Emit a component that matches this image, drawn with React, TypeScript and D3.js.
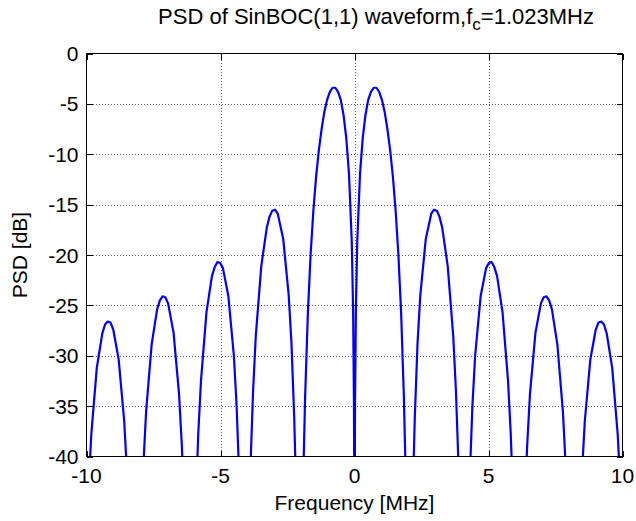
import React from 'react';
import * as d3 from 'd3';

// Frequency in MHz
const freqMHz = [
  -10.025, -9.923, -9.821, -9.616, -9.412, -9.309, -9.207, -9.105, -9.002, -8.798, -8.593, -8.491, -8.44,
  -8.184,
  -7.979, -7.877, -7.775, -7.57, -7.366, -7.263, -7.161, -7.059, -6.956, -6.752, -6.547, -6.445, -6.394, -6.343,
  -6.138,
  -5.933, -5.831, -5.729, -5.524, -5.32, -5.217, -5.115, -5.013, -4.91, -4.706, -4.501, -4.399, -4.297, -4.245, -4.194,
  -4.092,
  -3.939, -3.887, -3.785, -3.683, -3.478, -3.274, -3.171, -3.069, -2.967, -2.864, -2.66, -2.455, -2.353, -2.251, -2.199, -2.148,
  -2.046,
  -1.9437, -1.8926, -1.8414, -1.7391, -1.6368, -1.5345, -1.4322, -1.3299, -1.2276, -1.1253, -1.023, -0.9207, -0.8184,
  -0.7161, -0.6138, -0.5115, -0.4092, -0.3069, -0.2046, -0.1023, -0.0512, -0.0205, -0.0102,
  0,
  0.0102, 0.0205, 0.0512, 0.1023, 0.2046, 0.3069, 0.4092, 0.5115, 0.6138, 0.7161, 0.8184, 0.9207, 1.023, 1.1253,
  1.2276, 1.3299, 1.4322, 1.5345, 1.6368, 1.7391, 1.8414, 1.8926, 1.9437,
  2.046,
  2.148, 2.199, 2.251, 2.353, 2.455, 2.66, 2.864, 2.967, 3.069, 3.171, 3.274, 3.478, 3.683, 3.785, 3.887, 3.939,
  4.092,
  4.194, 4.245, 4.297, 4.399, 4.501, 4.706, 4.91, 5.013, 5.115, 5.217, 5.32, 5.524, 5.729, 5.831, 5.933,
  6.138,
  6.343, 6.394, 6.445, 6.547, 6.752, 6.956, 7.059, 7.161, 7.263, 7.366, 7.57, 7.775, 7.877, 7.979,
  8.184,
  8.44, 8.491, 8.593, 8.798, 9.002, 9.105, 9.207, 9.309, 9.412, 9.616, 9.821, 9.923, 10.025,
];

// PSD in dB at each frequency above (values below -40 are outside the axes)
const psdDb = [
  -50.9, -43.1, -37.8, -31.2, -27.8, -26.9, -26.6, -26.7, -27.4, -30.4, -36.5, -41.5, -44.9,
  -80,
  -48.6, -40.8, -35.5, -28.9, -25.4, -24.5, -24.1, -24.2, -24.8, -27.7, -33.8, -38.8, -42.1, -46.3,
  -80,
  -45.6, -37.8, -32.5, -25.7, -22.1, -21.2, -20.7, -20.8, -21.3, -24.1, -30.0, -35.0, -42.4, -47.9, -55.8,
  -80,
  -47.2, -41.4, -33.5, -28.0, -21.1, -17.3, -16.2, -15.6, -15.5, -15.9, -18.4, -24.0, -28.7, -36.0, -41.3, -49.1,
  -80,
  -48.1, -39.8, -34.0, -25.7, -19.9, -15.6, -12.2, -9.6, -7.5, -5.8, -4.6, -3.8, -3.4,
  -3.4, -3.8, -4.6, -6.1, -8.4, -12.0, -18.7, -25.6, -34.7, -41.6,
  -80,
  -41.6, -34.7, -25.6, -18.7, -12.0, -8.4, -6.1, -4.6, -3.8, -3.4, -3.4, -3.8, -4.6, -5.8,
  -7.5, -9.6, -12.2, -15.6, -19.9, -25.7, -34.0, -39.8, -48.1,
  -80,
  -49.1, -41.3, -36.0, -28.7, -24.0, -18.4, -15.9, -15.5, -15.6, -16.2, -17.3, -21.1, -28.0, -33.5, -41.4, -47.2,
  -80,
  -55.8, -47.9, -42.4, -35.0, -30.0, -24.1, -21.3, -20.8, -20.7, -21.2, -22.1, -25.7, -32.5, -37.8, -45.6,
  -80,
  -46.3, -42.1, -38.8, -33.8, -27.7, -24.8, -24.2, -24.1, -24.5, -25.4, -28.9, -35.5, -40.8, -48.6,
  -80,
  -44.9, -41.5, -36.5, -30.4, -27.4, -26.7, -26.6, -26.9, -27.8, -31.2, -37.8, -43.1, -50.9,
];

const xTickValues = [-10, -5, 0, 5, 10];
const yTickValues = [0, -5, -10, -15, -20, -25, -30, -35, -40];
const xDomain = [-10, 10];
const yDomain = [-40, 0];

const titleMain = 'PSD of SinBOC(1,1) waveform,f';
const titleSub = 'c';
const titleTail = '=1.023MHz';
const xLabelText = 'Frequency [MHz]';
const yLabelText = 'PSD [dB]';

const W = 636;
const H = 521;
const L = 86.5;
const R = 622.5;
const T = 53.5;
const B = 456.5;
const FONT = '"Liberation Sans", Arial, Helvetica, sans-serif';

export default function App() {
  const x = d3.scaleLinear().domain(xDomain).range([L, R]);
  const y = d3.scaleLinear().domain(yDomain).range([B, T]);
  const pts: [number, number][] = freqMHz.map((f, i) => [f, psdDb[i]]);
  const line = d3
    .line<[number, number]>()
    .x((d) => x(d[0]))
    .y((d) => y(d[1]));
  const tickLen = 6;

  return (
    <svg
      width={W}
      height={H}
      style={{ position: 'absolute', left: 0, top: 0, background: '#fff' }}
      fontFamily={FONT}
    >
      <rect x={0} y={0} width={W} height={H} fill="#fff" />
      <defs>
        <clipPath id="plotclip">
          <rect x={L} y={T} width={R - L} height={B - T} />
        </clipPath>
      </defs>
      {/* grid */}
      <g stroke="#5a5a5a" strokeWidth={1} strokeDasharray="1,2" shapeRendering="crispEdges">
        {xTickValues.slice(1, -1).map((v) => (
          <line key={'gx' + v} x1={Math.round(x(v)) + 0.5} x2={Math.round(x(v)) + 0.5} y1={T} y2={B} />
        ))}
        {yTickValues.slice(1, -1).map((v) => (
          <line key={'gy' + v} x1={L} x2={R} y1={Math.round(y(v)) + 0.5} y2={Math.round(y(v)) + 0.5} />
        ))}
      </g>
      {/* curve */}
      <g clipPath="url(#plotclip)">
        <path d={line(pts) || ''} fill="none" stroke="#0000ff" strokeWidth={2.2} strokeLinejoin="round" />
      </g>
      {/* axes box and ticks */}
      <g stroke="#000" strokeWidth={1} shapeRendering="crispEdges" fill="none">
        <rect x={L} y={T} width={R - L} height={B - T} />
        {xTickValues.map((v) => (
          <g key={'tx' + v}>
            <line x1={Math.round(x(v)) + 0.5} x2={Math.round(x(v)) + 0.5} y1={B} y2={B - tickLen} />
            <line x1={Math.round(x(v)) + 0.5} x2={Math.round(x(v)) + 0.5} y1={T} y2={T + tickLen} />
          </g>
        ))}
        {yTickValues.map((v) => (
          <g key={'ty' + v}>
            <line x1={L} x2={L + tickLen} y1={Math.round(y(v)) + 0.5} y2={Math.round(y(v)) + 0.5} />
            <line x1={R} x2={R - tickLen} y1={Math.round(y(v)) + 0.5} y2={Math.round(y(v)) + 0.5} />
          </g>
        ))}
      </g>
      {/* tick labels */}
      <g fontSize={21} fill="#000">
        {xTickValues.map((v) => (
          <text key={'lx' + v} x={x(v)} y={B + 26} textAnchor="middle">
            {String(v)}
          </text>
        ))}
        {yTickValues.map((v) => (
          <text key={'ly' + v} x={L - 8} y={y(v) + 7.5} textAnchor="end">
            {String(v)}
          </text>
        ))}
      </g>
      {/* axis labels */}
      <text x={(L + R) / 2} y={510} fontSize={21} textAnchor="middle" fill="#000">
        {xLabelText}
      </text>
      <text
        transform={`translate(${27},${(T + B) / 2}) rotate(-90)`}
        fontSize={21}
        textAnchor="middle"
        fill="#000"
      >
        {yLabelText}
      </text>
      {/* title */}
      <text x={376} y={24} fontSize={22} textAnchor="middle" fill="#000">
        <tspan>{titleMain}</tspan>
        <tspan fontSize={17} dy={6}>{titleSub}</tspan>
        <tspan dy={-6}>{titleTail}</tspan>
      </text>
    </svg>
  );
}
